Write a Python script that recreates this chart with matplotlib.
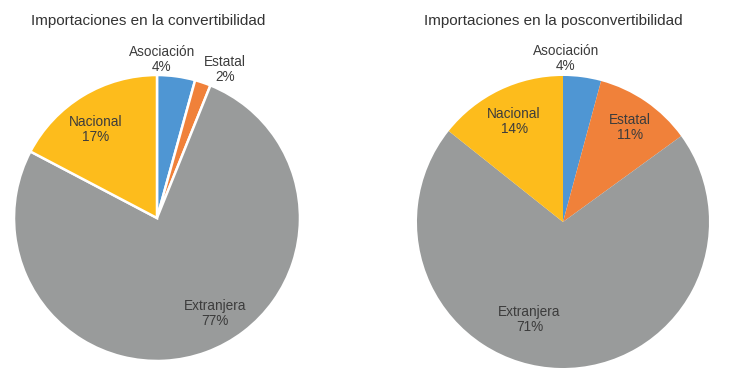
import matplotlib.pyplot as plt

plt.rcParams['font.family'] = ['Liberation Sans', 'DejaVu Sans']

categories = ['Asociación', 'Estatal', 'Extranjera', 'Nacional']
conv_values = [4.3, 1.8, 76.6, 17.3]
conv_labels = ['4%', '2%', '77%', '17%']
posconv_values = [4.2, 10.8, 70.7, 14.3]
posconv_labels = ['4%', '11%', '71%', '14%']
colors = ['#4f96d3', '#f0813a', '#999b9b', '#fdbc1c']
txt = '#3c3c3c'

fig = plt.figure(figsize=(7.49, 3.76), dpi=100)

# left pie
ax1 = fig.add_axes([0.0187, 0.0399, 0.3818, 0.7606])
ax1.pie(conv_values, colors=colors, startangle=90, counterclock=False,
        radius=1, wedgeprops=dict(edgecolor='white', linewidth=1.8))
ax1.set_xlim(-1, 1); ax1.set_ylim(-1, 1)
pos1 = [(0.035, 1.11), (0.475, 1.04), (0.405, -0.67), (-0.427, 0.62)]
for (x, y), c, l in zip(pos1, categories, conv_labels):
    ax1.text(x, y, c + '\n' + l, ha='center', va='center', fontsize=9.8,
             color=txt, linespacing=1.1)

# right pie
ax2 = fig.add_axes([0.5567, 0.0213, 0.3899, 0.7766])
ax2.pie(posconv_values, colors=colors, startangle=90, counterclock=False,
        radius=1, wedgeprops=dict(linewidth=0))
ax2.set_xlim(-1, 1); ax2.set_ylim(-1, 1)
pos2 = [(0.02, 1.12), (0.46, 0.65), (-0.23, -0.67), (-0.335, 0.69)]
for (x, y), c, l in zip(pos2, categories, posconv_labels):
    ax2.text(x, y, c + '\n' + l, ha='center', va='center', fontsize=9.8,
             color=txt, linespacing=1.1)

fig.text(0.0414, 0.945, 'Importaciones en la convertibilidad', fontsize=11,
         color='#333333', ha='left', va='center')
fig.text(0.566, 0.945, 'Importaciones en la posconvertibilidad', fontsize=11,
         color='#333333', ha='left', va='center')

fig.savefig('out.png', dpi=100)
